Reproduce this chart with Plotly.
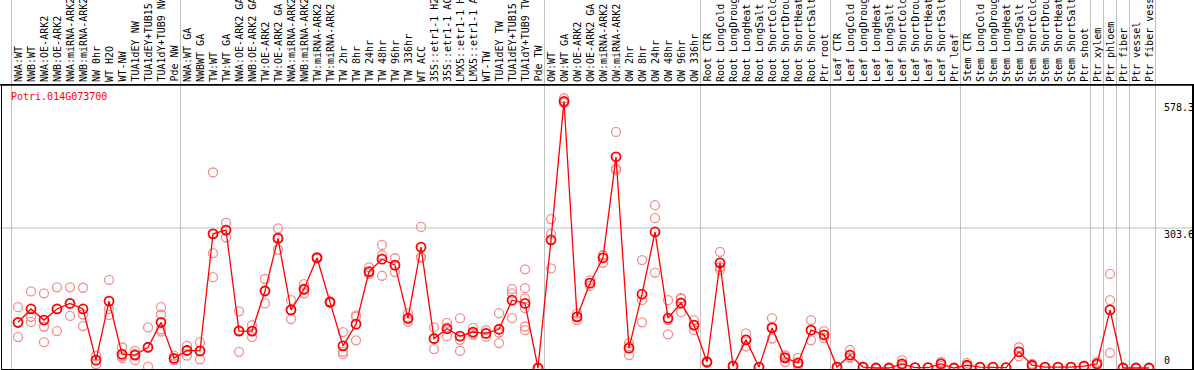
import plotly.graph_objects as go

# ---------------- data ----------------
labels_nw = ["NWA:WT", "NWB:WT", "NWA:OE-ARK2", "NWB:OE-ARK2", "NWA:miRNA-ARK2",
             "NWB:miRNA-ARK2", "NW 0hr", "WT H2O", "WT-NW", "TUA1dEY NW",
             "TUA1dEY+TUB15 NW", "TUA1dY+TUB9 NW", "Pde NW"]
means_nw = [99, 128, 104, 128, 140, 128, 17, 145, 30, 28, 45, 99, 21]
reps_nw = [[132, 67, 98], [166, 111, 100], [162, 90, 56], [175, 80, 128], [175, 113, 140],
           [174, 116, 91], [27, 8, 17], [191, 128, 115], [45, 22, 26], [37, 17, 30],
           [88, 3, 44], [132, 116, 84, 79], [27, 17]]

labels_tw = ["NWA:WT GA", "NWBWT GA", "TW:WT", "TW:WT GA", "NWA:OE-ARK2 GA", "NWB:OE-ARK2 GA",
             "TW:OE-ARK2", "TW:OE-ARK2 GA", "NWA:miRNA-ARK2", "NWB:miRNA-ARK2", "TW:miRNA-ARK2",
             "TW:miRNA-ARK2", "TW 2hr", "TW 8hr", "TW 24hr", "TW 48hr", "TW 96hr", "TW 336hr",
             "WT ACC", "35S::etr1-1 H2O", "35S::etr1-1 ACC", "LMX5::etr1-1 H2O", "LMX5::etr1-1 ACC",
             "WT-TW", "TUA1dEY TW", "TUA1dEY+TUB15 TW", "TUA1dY+TUB9 TW", "Pde TW"]
means_tw = [38, 37, 291, 299, 80, 80, 167, 281, 126, 171, 239, 143, 48, 95, 209, 236, 223, 108,
            262, 64, 85, 69, 78, 75, 84, 147, 140, 0]
reps_tw = [[48, 27, 39], [56, 19, 36], [424, 249, 197], [315, 283, 299], [123, 35, 82], [93, 67, 80],
           [193, 140, 168], [303, 257, 283], [147, 106, 125], [182, 162, 169], [241, 237, 239],
           [145, 141, 143], [78, 35, 30], [111, 60, 114], [218, 205, 204], [267, 245, 200],
           [238, 208, 223], [119, 100, 105], [306, 241, 239], [88, 41, 63], [98, 69, 88],
           [108, 61, 37], [87, 72, 75], [82, 68, 75], [119, 77, 54], [171, 108, 162],
           [214, 173, 151, 90, 82, 130], [0, 0]]

labels_ow = ["OW:WT", "OW:WT GA", "OW:OE-ARK2", "OW:OE-ARK2 GA", "OW:miRNA-ARK2", "OW:miRNA-ARK2",
             "OW 2hr", "OW 8hr", "OW 24hr", "OW 48hr", "OW 96hr", "OW 336hr"]
means_ow = [278, 578.3, 111, 184, 239, 458, 43, 160, 295, 108, 141, 93]
reps_ow = [[323, 291, 216], [585, 575, 575], [118, 104, 111], [190, 178], [245, 228, 244],
           [512, 429, 433], [54, 28, 47], [234, 147, 99], [353, 325, 207], [147, 104, 73],
           [152, 121, 150], [104, 82, 93]]

labels_root = ["Root CTR", "Root LongCold", "Root LongDrought", "Root LongHeat", "Root LongSalt",
               "Root ShortCold", "Root ShortDrought", "Root ShortHeat", "Root ShortSalt", "Ptr root"]
means_root = [13, 228, 4, 61, 2, 87, 22, 11, 82, 72]
reps_root = [[15, 11], [252, 213, 219], [5, 3], [75, 61, 47], [2, 2], [108, 89, 64],
             [28, 13, 25], [22, 4, 7], [104, 82, 60], [80, 65, 71]]

labels_leaf = ["Leaf CTR", "Leaf LongCold", "Leaf LongDrought", "Leaf LongHeat", "Leaf LongSalt",
               "Leaf ShortCold", "Leaf ShortDrought", "Leaf ShortHeat", "Leaf ShortSalt", "Ptr leaf"]
means_leaf = [2, 28, 2, 0, 0, 9, 1, 1, 9, 0]
reps_leaf = [[3, 1], [39, 22, 23], [3, 1], [0, 0], [0, 0], [17, 4, 6], [1, 1], [1, 1],
             [13, 4, 10], [0, 0]]

labels_stem = ["Stem CTR", "Stem LongCold", "Stem LongDrought", "Stem LongHeat", "Stem LongSalt",
               "Stem ShortCold", "Stem ShortDrought", "Stem ShortHeat", "Stem ShortSalt",
               "Ptr shoot", "Ptr xylem", "Ptr phloem", "Ptr fiber", "Ptr vessel", "Ptr fiber vessel"]
means_stem = [6, 2, 2, 1, 35, 6, 2, 2, 2, 4, 9, 126, 0, 0, 0]
reps_stem = [[11, 4, 3], [2, 2], [2, 2], [1, 1], [45, 35, 25], [9, 3], [2, 2], [2, 2], [2, 2],
             [5, 3], [13, 6, 8], [204, 147, 33], [0, 0], [0, 0], [0, 0]]

gene_name = "Potri.014G073700"
ytick_vals = [578.3, 303.6, 0]
ytick_text = ["578.3", "303.6", "0"]

# ---------------- assemble ----------------
groups = [(labels_nw, means_nw, reps_nw), (labels_tw, means_tw, reps_tw),
          (labels_ow, means_ow, reps_ow), (labels_root, means_root, reps_root),
          (labels_leaf, means_leaf, reps_leaf), (labels_stem, means_stem, reps_stem)]
labels, means, reps = [], [], []
boundaries = [-0.5]
for lab, mn, rp in groups:
    labels += lab
    means += mn
    reps += rp
    boundaries.append(len(labels) - 0.5)
# extra separators between the last few tissue samples
boundaries += [len(labels) - 5.5, len(labels) - 4.5, len(labels) - 3.5, len(labels) - 2.5]

xs = list(range(len(labels)))
rx, ry = [], []
for i, rv in enumerate(reps):
    for v in rv:
        rx.append(i)
        ry.append(v)

W, H = 1194, 370
ML, MR, MT, MB = 2, 2, 85, 1
pw = W - ML - MR
ph = H - MT - MB
step = 13.0
x0 = -(18 - ML) / step
x1 = x0 + pw / step
upp = 303.6 / 140.0
y0 = -1 * upp
y1 = (368 - MT) * upp

mono = "DejaVu Sans Mono"

fig = go.Figure()
fig.add_trace(go.Scatter(x=rx, y=ry, mode="markers",
                         marker=dict(symbol="circle-open", size=9, color="#f29090",
                                     line=dict(width=1.3, color="#f29090")),
                         hoverinfo="skip"))
fig.add_trace(go.Scatter(x=xs, y=means, mode="lines+markers",
                         line=dict(color="#ff0000", width=1.3),
                         marker=dict(symbol="circle-open", size=9, color="#ff0000",
                                     line=dict(width=1.8, color="#ff0000"))))

shapes = []
top_paper = 1 + MT / ph
for b in boundaries:
    shapes.append(dict(type="line", xref="x", yref="paper", x0=b, x1=b, y0=0, y1=top_paper,
                       line=dict(color="#c0c0c0", width=1), layer="below"))
shapes.append(dict(type="line", xref="paper", yref="y", x0=-ML / pw, x1=1 + MR / pw,
                   y0=303.6, y1=303.6, line=dict(color="#c0c0c0", width=1), layer="below"))
shapes.append(dict(type="line", xref="paper", yref="paper", x0=-ML / pw, x1=1 + MR / pw,
                   y0=1, y1=1, line=dict(color="black", width=1.5)))

annotations = []
for i, lab in enumerate(labels):
    annotations.append(dict(x=i, y=1, xref="x", yref="paper", text=lab, textangle=-90,
                            xanchor="center", yanchor="bottom", yshift=1, showarrow=False,
                            font=dict(family=mono, size=10, color="black")))
annotations.append(dict(x=(9 - ML) / pw, y=1 - (97 - MT) / ph, xref="paper", yref="paper",
                        text=gene_name, xanchor="left", yanchor="middle", showarrow=False,
                        font=dict(family=mono, size=10, color="#ff0000")))
tx = (1162 - ML) / pw
for v, t in zip(ytick_vals, ytick_text):
    annotations.append(dict(x=tx, y=v, xref="paper", yref="y", text=t, xanchor="left",
                            yanchor="bottom" if v == 0 else "top", showarrow=False,
                            yshift=0 if v == 0 else 1,
                            font=dict(family=mono, size=10, color="black")))

fig.update_layout(width=W, height=H, margin=dict(l=ML, r=MR, t=MT, b=MB),
                  paper_bgcolor="white", plot_bgcolor="white", showlegend=False,
                  hovermode=False,
                  shapes=shapes, annotations=annotations,
                  xaxis=dict(range=[x0, x1], showgrid=False, zeroline=False, showticklabels=False,
                             ticks="", showline=True, mirror=True, linecolor="black", linewidth=1.5),
                  yaxis=dict(range=[y0, y1], showgrid=False, zeroline=False, showticklabels=False,
                             ticks="", showline=True, mirror=True, linecolor="black", linewidth=1.5))

fig.write_html("out.html", config={"displayModeBar": False, "staticPlot": True},
               post_script="document.body.style.margin='0';document.body.style.overflow='hidden';")
